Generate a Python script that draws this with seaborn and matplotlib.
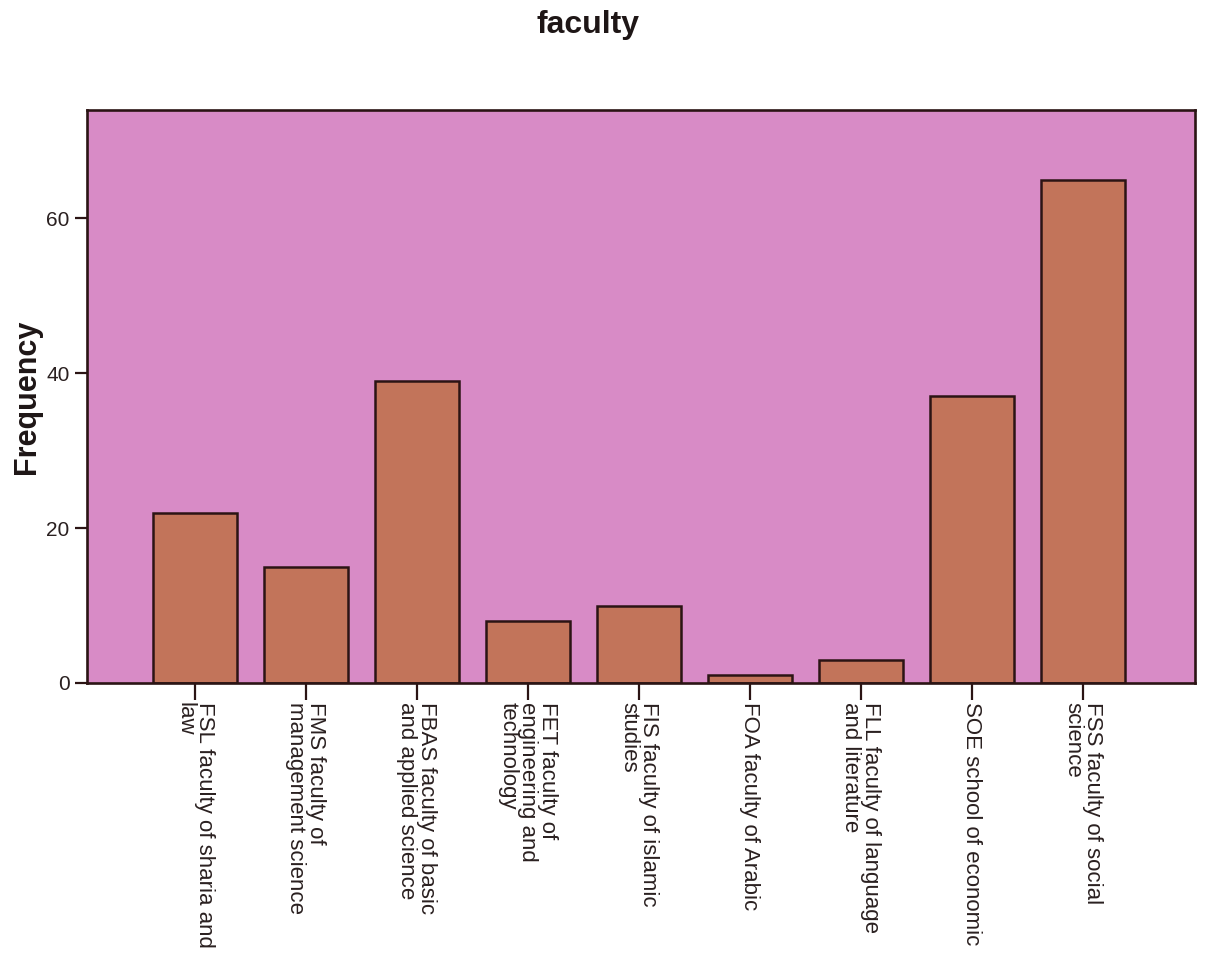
import matplotlib
matplotlib.use("Agg")
import matplotlib.pyplot as plt
import seaborn as sns
import pandas as pd

# Faculty frequency counts
faculties = [
    "FSL faculty of sharia and\nlaw",
    "FMS faculty of\nmanagement science",
    "FBAS faculty of basic\nand applied science",
    "FET faculty of\nengineering and\ntechnology",
    "FIS faculty of islamic\nstudies",
    "FOA faculty of Arabic",
    "FLL faculty of language\nand literature",
    "SOE school of economic",
    "FSS faculty of social\nscience",
]
counts = [22, 15, 39, 8, 10, 1, 3, 37, 65]
y_ticks = [0, 20, 40, 60]

df = pd.DataFrame({"faculty": faculties, "Frequency": counts})

sns.set_style("white")
plt.rcParams["font.family"] = ["Liberation Sans", "DejaVu Sans"]

fig = plt.figure(figsize=(12.05, 9.63), dpi=100)
ax = fig.add_axes([0.0722, 0.2908, 0.9195, 0.595])

dark = "#2b1414"
ax.set_facecolor("#D88BC6")
sns.barplot(data=df, x="faculty", y="Frequency", color="#C2745A",
            width=0.76, edgecolor=dark, linewidth=1.8, saturation=1,
            ax=ax)

ax.set_xlim(-0.97, 9.01)
ax.set_ylim(0, 74)
ax.set_yticks(y_ticks)
ax.set_yticklabels([str(t) for t in y_ticks], fontsize=15, color="#2a2020")

ax.set_xticks(range(len(faculties)))
ax.set_xticklabels(faculties, rotation=-90, fontsize=16, color="#2a2020",
                   ha="center", va="top", multialignment="left",
                   linespacing=0.92)

ax.tick_params(axis="both", direction="out", length=9, width=1.6,
               color=dark, bottom=True, left=True)
ax.tick_params(axis="x", length=12, pad=2)

for sp in ax.spines.values():
    sp.set_visible(True)
    sp.set_color(dark)
    sp.set_linewidth(1.9)

ax.set_xlabel("")
ax.set_ylabel("Frequency", fontsize=22, fontweight="bold", labelpad=3,
              color="#1e1616")
fig.suptitle("faculty", fontsize=23, fontweight="bold", x=0.488, y=0.99,
             color="#1e1616")

fig.savefig("out.png", dpi=100, facecolor="white")
